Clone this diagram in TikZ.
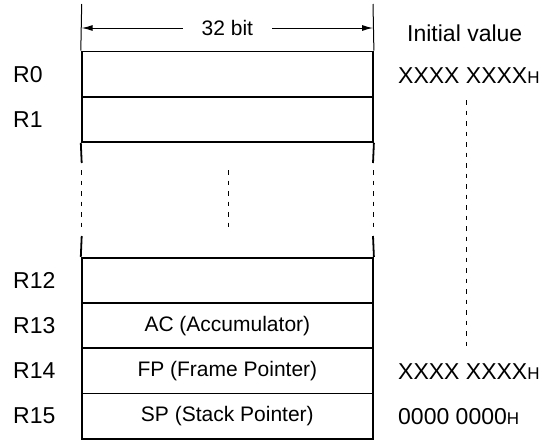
\documentclass[tikz,border=0pt]{standalone}
\usepackage{fontspec}
\setmainfont{Liberation Sans}
\usetikzlibrary{arrows.meta}
\newcommand{\regcell}[3] {\node at (#1) (#2) [regbox] {#3};}
\newcommand{\reglabel}[3] {\node at (#1) (#2) [sidetext] {#3};}
\newcommand{\hexsub}{{\fontsize{17}{17}\selectfont H}}

\begin{document}
\begin{tikzpicture}[x=1pt, y=-1pt,
  regbox/.style={draw, line width=1.8pt, minimum width=291.3pt, minimum height=45.25pt, inner sep=0pt, font=\fontsize{21}{25}\selectfont},
  sidetext/.style={anchor=west, inner sep=0pt, font=\fontsize{23}{27}\selectfont},
  wall/.style={line width=1.8pt},
  gapline/.style={line width=1pt, dash pattern=on 4.5pt off 6pt}]

\useasboundingbox (0,0) rectangle (548,440);

\regcell {227.35,74.15}{R0}{};
\regcell {227.35,119.4}{R1}{};
\regcell {227.35,280.43}{R12}{};
\regcell {227.35,325.68}{R13}{AC (Accumulator)};
\regcell {227.35,370.93}{R14}{FP (Frame Pointer)};
\regcell {227.35,416.18}{R15}{SP (Stack Pointer)};

\reglabel {13,74.15}{lR0}{R0};
\reglabel {13,119.4}{lR1}{R1};
\reglabel {13,280.43}{lR12}{R12};
\reglabel {13,325.68}{lR13}{R13};
\reglabel {13,370.93}{lR14}{R14};
\reglabel {13,416.18}{lR15}{R15};

\reglabel {407,33}{init}{Initial value};
\reglabel {398,76}{v0}{XXXX XXXX\hexsub};
\reglabel {398,372}{v14}{XXXX XXXX\hexsub};
\reglabel {398,416.18}{v15}{0000 0000\hexsub};

% width arrow
\coordinate (tl) at (81.7,4);
\coordinate (tr) at (373,4);
\coordinate (al) at (81.7,28);
\coordinate (ar) at (373,28);
\draw [line width=1pt] (tl) -- (R0.north west);
\draw [line width=1pt] (tr) -- (R0.north east);
\draw [{Latex[length=11pt,width=6pt]}-{Latex[length=11pt,width=6pt]}, line width=1pt] (al) -- node [midway, fill=white, inner xsep=19pt, font=\fontsize{21}{25}\selectfont] {32 bit} (ar);

% omitted registers
\coordinate (wl1) at (81.7,163);
\coordinate (wl2) at (81.7,170);
\coordinate (wl3) at (81.7,229);
\coordinate (wl4) at (81.7,236);
\coordinate (wr1) at (373,163);
\coordinate (wr2) at (373,170);
\coordinate (wr3) at (373,229);
\coordinate (wr4) at (373,236);
\coordinate (m1) at (228,170);
\coordinate (m2) at (228,229);
\draw [wall] (R1.south west) -- (wl1);
\draw [wall] (R1.south east) -- (wr1);
\draw [gapline] (wl2) -- (wl3);
\draw [gapline] (wr2) -- (wr3);
\draw [gapline] (m1) -- (m2);
\draw [wall] (wl4) -- (R12.north west);
\draw [wall] (wr4) -- (R12.north east);

% initial values
\coordinate (vd1) at (466,100);
\coordinate (vd2) at (466,348);
\draw [gapline] (vd1) -- (vd2);

\end{tikzpicture}
\end{document}
